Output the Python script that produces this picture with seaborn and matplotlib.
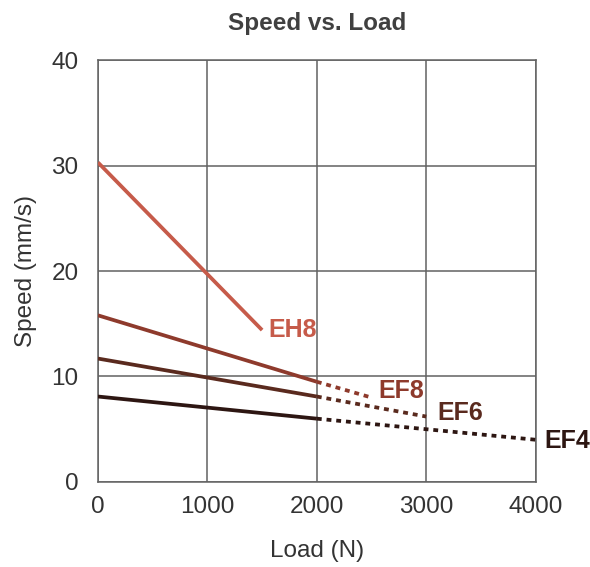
import matplotlib
matplotlib.use("Agg")
import matplotlib.pyplot as plt
import seaborn as sns
import pandas as pd

# rated (solid) part of each curve
series = ["EH8", "EF8", "EF6", "EF4"]
rated_load = {
    "EH8": [0, 1500],
    "EF8": [0, 2000],
    "EF6": [0, 2000],
    "EF4": [0, 2000],
}
rated_speed = {
    "EH8": [30.3, 14.4],
    "EF8": [15.8, 9.5],
    "EF6": [11.7, 8.1],
    "EF4": [8.1, 6.0],
}
# extended (dotted) part
ext_load = {
    "EF8": [2000, 2500],
    "EF6": [2000, 3000],
    "EF4": [2000, 3000, 4000],
}
ext_speed = {
    "EF8": [9.5, 8.0],
    "EF6": [8.1, 6.2],
    "EF4": [6.0, 5.0, 4.0],
}
label_pos = {
    "EH8": (1560, 14.4),
    "EF8": (2560, 8.6),
    "EF6": (3100, 6.5),
    "EF4": (4080, 3.9),
}
colors = {"EH8": "#c65b4a", "EF8": "#8e3a2c", "EF6": "#5a2a1e", "EF4": "#2d1612"}

sns.set_style("white")
plt.rcParams["font.family"] = ["Liberation Sans", "DejaVu Sans"]
plt.rcParams["font.stretch"] = "normal"

fig = plt.figure(figsize=(5.9, 5.67), dpi=100)
ax = fig.add_axes([0.166, 0.15, 0.742, 0.744])

for s in series:
    df = pd.DataFrame({"load": rated_load[s], "speed": rated_speed[s]})
    sns.lineplot(data=df, x="load", y="speed", ax=ax, color=colors[s],
                 linewidth=2.7, solid_capstyle="butt", zorder=3)
    if s in ext_load:
        de = pd.DataFrame({"load": ext_load[s], "speed": ext_speed[s]})
        sns.lineplot(data=de, x="load", y="speed", ax=ax, color=colors[s],
                     linewidth=2.7, linestyle=(0, (1.3, 1.3)), zorder=3)
    x, y = label_pos[s]
    ax.text(x, y, s, color=colors[s], fontsize=18, fontweight="bold",
            va="center", ha="left", clip_on=False)

ax.set_xlim(0, 4000)
ax.set_ylim(0, 40)
ax.set_xticks([0, 1000, 2000, 3000, 4000])
ax.set_yticks([0, 10, 20, 30, 40])
ax.grid(True, color="#626262", linewidth=1.1)
for sp in ax.spines.values():
    sp.set_color("#626262")
    sp.set_linewidth(1.1)
ax.tick_params(length=0, labelsize=17.5, colors="#333333")
ax.tick_params(axis="x", pad=10)
ax.tick_params(axis="y", pad=14)
ax.set_xlabel("Load (N)", fontsize=17.5, color="#333333", labelpad=16)
ax.set_ylabel("Speed (mm/s)", fontsize=17.5, color="#333333", labelpad=10)
ax.set_title("Speed vs. Load", fontsize=17.5, fontweight="bold", color="#404040", pad=22)

fig.savefig("out.png", dpi=100)
